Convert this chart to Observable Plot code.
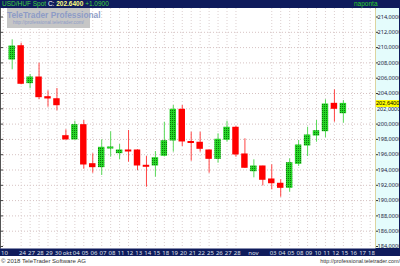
<!DOCTYPE html>
<html><head><meta charset="utf-8">
<script src="https://cdn.jsdelivr.net/npm/d3@7"></script>
<script src="https://cdn.jsdelivr.net/npm/@observablehq/plot@0.6"></script>
<style>
body{margin:0;background:#fff;}
#wrap{position:relative;width:400px;height:266px;overflow:hidden;font-family:"Liberation Sans",Arial,sans-serif;background:#fff;}
.abs{position:absolute;white-space:nowrap;}
</style></head><body><div id="wrap">
<div class="abs" style="left:0;top:0;width:400px;height:8px;background:#0f1b5c"></div>
<div class="abs" style="left:375px;top:8px;width:24px;height:240px;background:#e4fcfc;border-left:1px solid #b8a840"></div>
<div class="abs" style="left:0;top:248px;width:400px;height:8px;background:#0f1b5c"></div>
<div class="abs" style="left:399px;top:0;width:1px;height:256px;background:#0f1b5c"></div>
</div>
<script>
// ---- data ----
const opens  = [208.44,210.18,205.35,206.09,203.52,203.25,198.42,197.99,199.86,194.76,194.37,196.81,196.20,196.55,196.55,194.55,194.59,195.86,197.86,201.87,197.66,197.56,196.55,195.46,197.95,199.52,196.03,193.84,194.46,192.76,192.20,191.67,194.81,197.20,198.51,199.07,202.65,201.42];
const highs  = [211.02,210.58,206.48,207.96,204.35,204.65,199.25,200.38,200.47,196.12,197.95,198.99,197.33,199.16,196.64,195.76,196.42,200.25,202.43,202.43,198.94,198.94,196.60,198.73,200.38,199.70,198.08,195.33,194.50,194.68,192.72,195.46,197.86,199.59,200.47,203.18,204.48,203.08];
const lows   = [207.10,205.14,204.61,203.18,202.21,201.74,197.95,197.95,194.10,193.58,193.28,195.67,195.33,195.02,193.93,191.75,193.06,195.70,196.33,197.07,195.15,196.33,193.58,194.89,197.63,195.67,194.20,192.98,191.91,191.41,190.44,191.10,194.46,195.76,197.63,198.21,200.25,200.12];
const closes = [210.14,205.27,206.09,203.52,203.35,202.47,197.99,199.86,194.72,194.37,196.90,196.94,196.55,196.42,194.59,194.42,195.54,197.76,201.87,197.73,197.53,196.77,195.46,197.95,199.52,196.03,194.29,194.46,192.72,192.27,191.67,194.89,197.20,198.51,199.07,202.56,202.00,202.64];
const tickIdx  = [-1,1,2,3,4,5,6,7,8,9,10,11,12,13,14,15,16,17,18,19,20,21,22,23,24,25,26.8,29,30,31,32,33,34,35,36,37,38,39,40];
const tickText = ["10","24","27","28","29","30","okt","04","05","06","07","08","11","12","13","14","15","18","19","20","21","22","25","26","27","28","nov","03","04","05","08","09","10","11","12","15","16","17","18"];
const yTicks = d3.range(184, 215, 2);
const lastPrice = 202.64;
const title = {pair:"USD/HUF Spot", c:"C:", price:"202.6400", chg:"+1.0900", period:"naponta"};

const candles = opens.map((o,i)=>({i, open:o, high:highs[i], low:lows[i], close:closes[i], up: closes[i] >= o}));
const labelMap = new Map(tickIdx.map((d,k)=>[d, tickText[k]]));
const gridX = tickIdx.filter(d => Number.isInteger(d));
const GREEN = "#23c423", RED = "#ff0000";

const chart = Plot.plot({
  width: 400, height: 256,
  marginLeft: 0, marginRight: 25, marginTop: 8, marginBottom: 8,
  x: {type: "linear", domain: [-1.307, 40.59], axis: null},
  y: {domain: [184, 214], range: [246, 16.5], axis: null},
  style: {background: "transparent", overflow: "visible"},
  marks: [
    Plot.frame({fill: "white"}),
    Plot.ruleY(yTicks.slice(1, -1), {stroke: "#d6c2c2", strokeDasharray: "1,2"}),
    Plot.ruleX(gridX, {stroke: "#dccfcf", strokeDasharray: "1,2"}),
    Plot.ruleX([-1.307], {stroke: "#555"}),
    Plot.tickY(yTicks, {stroke: "#444", insetRight: 372}),
    Plot.ruleX(candles, {x: "i", y1: "low", y2: "high", stroke: d => d.up ? "#5ada5a" : "#ff4444", strokeWidth: 1}),
    Plot.rect(candles.filter(d => d.up), {x1: d => d.i - 0.36, x2: d => d.i + 0.36, y1: "open", y2: "close", fill: GREEN, insetTop: -0.5, insetBottom: -0.5}),
    Plot.rect(candles.filter(d => !d.up), {x1: d => d.i - 0.36, x2: d => d.i + 0.36, y1: "close", y2: "open", fill: RED, insetTop: -0.5, insetBottom: -0.5}),
    Plot.axisY({anchor: "right", ticks: yTicks.filter(d => d !== 202), tickFormat: d => d.toFixed(4).replace(".", ","), tickSize: 2, tickPadding: 0, fontSize: 5.6, fill: "#1a1a3a", stroke: "#333", label: null}),
    Plot.axisX({anchor: "bottom", ticks: tickIdx, tickFormat: d => labelMap.get(d), tickSize: 0, tickPadding: 1.8, fontSize: 6, fill: "#dfe0ea", dx: 1.3, label: null})
  ]
});
chart.style.position = "absolute";
chart.style.left = "0px";
chart.style.top = "0px";
const wrap = document.getElementById("wrap");
wrap.appendChild(chart);

// dotted texture for green bodies
const svg = d3.select(chart);
const defs = svg.insert("defs", ":first-child");
const pat = defs.append("pattern").attr("id", "dots").attr("width", 2).attr("height", 2).attr("patternUnits", "userSpaceOnUse");
pat.append("rect").attr("width", 2).attr("height", 2).attr("fill", "#26d626");
pat.append("rect").attr("width", 1).attr("height", 1).attr("fill", "#0b7a0b");
svg.selectAll(`[fill="${GREEN}"]`).attr("fill", "url(#dots)");

function addDiv(style, html){ const d = document.createElement("div"); d.className = "abs"; d.setAttribute("style", style); d.innerHTML = html; wrap.appendChild(d); return d; }
addDiv("left:2px;top:0;height:8px;line-height:8px;font-size:6.5px;",
  `<span style="color:#3fd13f">${title.pair}</span> <span style="color:#fff">${title.c}</span> <span style="color:#ffff80;font-weight:bold">${title.price}</span> <span style="color:#3fd13f">${title.chg}</span>`);
addDiv("left:354px;top:0;height:8px;line-height:8px;font-size:6.5px;color:#2ad02a;", title.period);
addDiv("left:7px;top:8px;width:83px;height:20px;background:#c6c6c6;text-align:center;color:#8e9cc6;",
  `<div style="font-weight:bold;font-size:8.3px;line-height:10px;margin-top:2px">TeleTrader Professional</div><div style="font-size:4.8px;line-height:6px">http://professional.teletrader.com/</div>`);
const ys = chart.scale("y");
const yp = ys.apply(lastPrice);
// partially hidden 202 label below the price box, as in the reference
addDiv(`left:377px;top:${yp + 3.5}px;height:5px;line-height:5px;font-size:5.6px;color:#1a1a3a;overflow:hidden;`, "202,0000");
addDiv(`left:376px;top:${yp - 3.5}px;width:23px;height:7px;line-height:7px;background:#ffff00;font-size:5.6px;color:#000;overflow:hidden;`, lastPrice.toFixed(4).replace(".", ","));
addDiv("left:1px;top:256px;height:10px;line-height:10px;font-size:6px;color:#333;", "© 2018 TeleTrader Software AG");
addDiv("right:0;top:256px;height:10px;line-height:10px;font-size:5.4px;color:#333;", "http://professional.teletrader.com/");
</script>
</body></html>
